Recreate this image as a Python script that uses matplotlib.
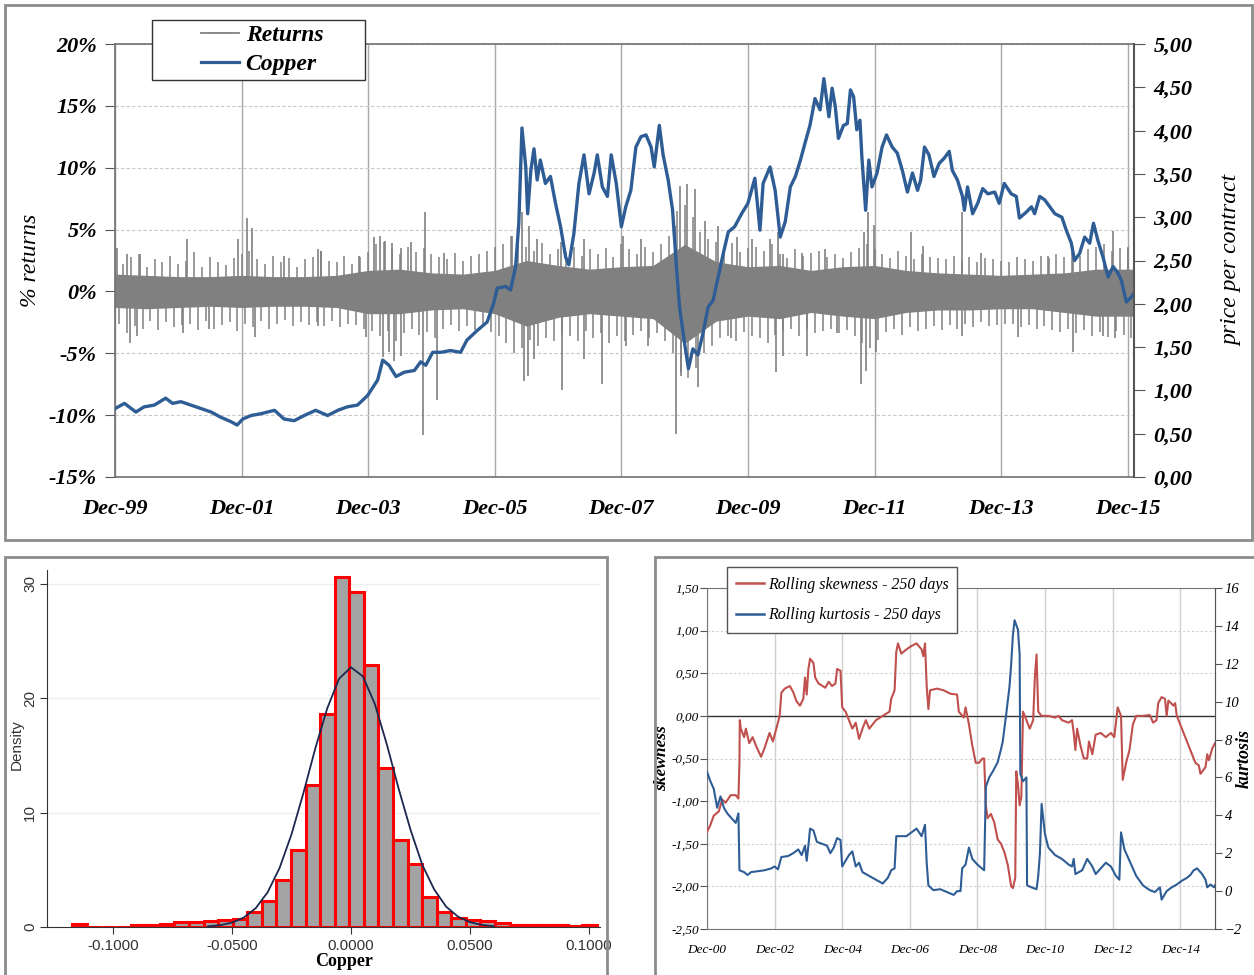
import matplotlib
matplotlib.use("Agg")
import matplotlib.pyplot as plt
from matplotlib.patches import Rectangle
from matplotlib.lines import Line2D
from matplotlib.ticker import FuncFormatter

SERIF = "Liberation Serif"
SANS = "Liberation Sans"

# ---------------- data ----------------
# top panel, x = years after Dec-99
top_labels = ["Dec-99", "Dec-01", "Dec-03", "Dec-05", "Dec-07", "Dec-09", "Dec-11", "Dec-13", "Dec-15"]

copper_pts = [
    (0, 0.79), (0.15, 0.85), (0.33, 0.75), (0.46, 0.81), (0.62, 0.83), (0.80, 0.91), (0.91, 0.85),
    (1.04, 0.87), (1.20, 0.83), (1.36, 0.79), (1.52, 0.75), (1.67, 0.69), (1.83, 0.64), (1.93, 0.60),
    (2.02, 0.67), (2.15, 0.71), (2.30, 0.73), (2.52, 0.77), (2.67, 0.67), (2.83, 0.65), (2.99, 0.71),
    (3.17, 0.77), (3.36, 0.71), (3.52, 0.77), (3.67, 0.81), (3.83, 0.83), (3.99, 0.94), (4.15, 1.12),
    (4.23, 1.35), (4.33, 1.29), (4.44, 1.16), (4.57, 1.21), (4.73, 1.23), (4.83, 1.33), (4.91, 1.29),
    (5.02, 1.44), (5.15, 1.44), (5.30, 1.46), (5.46, 1.44), (5.56, 1.58), (5.72, 1.69), (5.88, 1.79),
    (5.98, 2.00), (6.04, 2.18), (6.17, 2.20), (6.25, 2.16), (6.33, 2.43), (6.38, 2.93), (6.43, 4.03),
    (6.49, 3.58), (6.52, 3.04), (6.57, 3.54), (6.62, 3.79), (6.67, 3.43), (6.72, 3.66), (6.80, 3.39),
    (6.88, 3.47), (6.96, 3.16), (7.04, 2.89), (7.12, 2.54), (7.17, 2.45), (7.25, 2.81), (7.33, 3.39),
    (7.41, 3.72), (7.49, 3.27), (7.57, 3.51), (7.62, 3.72), (7.70, 3.35), (7.78, 3.24), (7.84, 3.72),
    (7.92, 3.39), (8.00, 2.89), (8.07, 3.12), (8.15, 3.31), (8.23, 3.81), (8.31, 3.93), (8.39, 3.95),
    (8.47, 3.81), (8.52, 3.58), (8.60, 4.06), (8.66, 3.72), (8.74, 3.43), (8.81, 3.08), (8.87, 2.43),
    (8.92, 1.96), (9.00, 1.54), (9.06, 1.25), (9.13, 1.48), (9.21, 1.41), (9.29, 1.66), (9.37, 1.96),
    (9.45, 2.04), (9.53, 2.31), (9.61, 2.58), (9.69, 2.83), (9.79, 2.89), (9.90, 3.04), (10.00, 3.16),
    (10.11, 3.45), (10.19, 2.85), (10.24, 3.39), (10.35, 3.58), (10.43, 3.31), (10.51, 2.77),
    (10.59, 2.95), (10.67, 3.35), (10.75, 3.47), (10.83, 3.66), (10.90, 3.85), (10.98, 4.06),
    (11.06, 4.37), (11.14, 4.24), (11.20, 4.60), (11.28, 4.16), (11.33, 4.49), (11.38, 4.28),
    (11.43, 3.91), (11.51, 4.06), (11.57, 4.08), (11.62, 4.47), (11.67, 4.39), (11.72, 4.01),
    (11.77, 4.12), (11.80, 3.70), (11.86, 3.08), (11.91, 3.66), (11.96, 3.35), (12.04, 3.51),
    (12.12, 3.81), (12.19, 3.95), (12.28, 3.81), (12.36, 3.74), (12.44, 3.54), (12.52, 3.29),
    (12.60, 3.51), (12.68, 3.31), (12.73, 3.43), (12.79, 3.81), (12.86, 3.72), (12.94, 3.47),
    (13.02, 3.62), (13.10, 3.68), (13.18, 3.76), (13.23, 3.54), (13.31, 3.43), (13.39, 3.24),
    (13.42, 3.08), (13.47, 3.35), (13.55, 3.04), (13.63, 3.16), (13.71, 3.33), (13.79, 3.27),
    (13.90, 3.29), (13.97, 3.16), (14.05, 3.39), (14.16, 3.27), (14.24, 3.24), (14.29, 2.99),
    (14.40, 3.06), (14.48, 3.12), (14.53, 3.04), (14.61, 3.24), (14.69, 3.20), (14.77, 3.12),
    (14.85, 3.04), (14.96, 3.00), (15.03, 2.85), (15.11, 2.70), (15.16, 2.50), (15.24, 2.58),
    (15.32, 2.77), (15.40, 2.70), (15.46, 2.93), (15.53, 2.73), (15.61, 2.54), (15.69, 2.31),
    (15.77, 2.43), (15.85, 2.35), (15.90, 2.27), (15.98, 2.02), (16.06, 2.08), (16.10, 2.12),
]

# dense core of the daily returns (%), half-year steps
ret_t = [0, 0.5, 1, 1.5, 2, 2.5, 3, 3.5, 4, 4.5, 5, 5.5, 6, 6.5, 7, 7.5, 8, 8.5, 9, 9.5,
         10, 10.5, 11, 11.5, 12, 12.5, 13, 13.5, 14, 14.5, 15, 15.5, 16, 16.1]
ret_hi = [1.4, 1.3, 1.2, 1.2, 1.3, 1.2, 1.2, 1.3, 1.7, 1.8, 1.5, 1.4, 1.7, 2.5, 2.1, 1.8, 2.0,
          2.1, 3.8, 2.4, 2.0, 2.1, 1.7, 2.0, 2.1, 1.7, 1.5, 1.4, 1.3, 1.4, 1.5, 1.8, 1.8, 1.8]
ret_lo = [-1.3, -1.4, -1.3, -1.2, -1.3, -1.2, -1.2, -1.3, -1.8, -1.8, -1.5, -1.4, -1.8, -2.8,
          -2.1, -1.8, -2.0, -2.2, -4.2, -2.4, -2.0, -2.2, -1.7, -2.0, -2.2, -1.7, -1.5, -1.5,
          -1.4, -1.4, -1.7, -2.0, -2.0, -2.0]

# largest up / down daily return in each 1.5-month window (%)
fringe_t = [i * 0.125 for i in range(129)]
fringe_up = [3.4, 2.2, 2.8, 3.0, 2.0, 2.6, 2.4, 2.9, 2.2,
             2.5, 3.2, 2.0, 2.8, 2.4, 2.1, 2.7, 3.0,
             3.3, 2.6, 2.2, 2.9, 2.4, 2.7, 2.0, 2.6,
             2.8, 3.3, 2.5, 2.4, 2.9, 2.2, 2.8, 3.2,
             3.8, 4.0, 3.4, 3.0, 3.6, 3.2, 3.5, 3.0,
             2.8, 2.6, 3.1, 2.5, 2.9, 3.0, 3.3, 3.6,
             3.8, 4.5, 4.2, 3.6, 3.3, 3.9, 3.0, 3.4,
             3.2, 3.6, 2.9, 3.4, 3.0, 3.5, 2.8, 3.8,
             3.4, 3.0, 3.6, 3.2, 3.8, 4.5, 6.5, 7.0,
             6.0, 4.8, 4.2, 4.0, 3.6, 3.9, 3.2, 3.5,
             3.6, 3.3, 3.8, 3.0, 2.7, 3.4, 2.9, 3.1,
             3.3, 2.8, 3.0, 2.7, 3.2, 3.5, 3.8, 3.4,
             3.0, 2.7, 3.3, 2.9, 2.6, 3.0, 2.8, 2.7,
             2.6, 2.9, 2.5, 2.8, 2.4, 2.7, 2.6, 2.5,
             2.4, 2.8, 2.6, 2.5, 2.9, 2.7, 3.0, 2.8,
             3.2, 2.9, 3.4, 3.6, 3.8, 3.3, 3.5, 3.6]
fringe_dn = [-2.6, -3.4, -2.8, -3.0, -2.4, -3.1, -2.5, -2.9, -2.7,
             -2.6, -3.1, -2.4, -3.0, -2.7, -2.5, -3.2, -2.6,
             -2.9, -2.4, -3.0, -2.6, -2.3, -2.8, -2.5, -2.7,
             -2.5, -2.8, -2.4, -2.9, -2.6, -2.7, -3.0, -3.2,
             -3.6, -3.2, -4.0, -3.4, -3.0, -3.5, -3.3, -3.8,
             -3.0, -2.7, -3.2, -2.8, -3.1, -2.9, -3.3, -3.6,
             -4.2, -5.0, -4.6, -3.9, -4.4, -3.8, -4.0, -3.5,
             -3.6, -4.0, -3.2, -3.8, -3.4, -4.2, -3.6, -4.0,
             -3.5, -3.2, -3.8, -3.4, -4.0, -5.0, -6.5, -7.0,
             -6.2, -5.0, -4.4, -3.8, -3.6, -4.0, -3.3, -3.6,
             -3.8, -4.2, -3.5, -3.2, -3.0, -3.6, -3.0, -3.4,
             -3.2, -3.0, -3.4, -3.1, -3.6, -4.2, -4.6, -3.9,
             -3.3, -3.0, -3.5, -2.9, -3.2, -3.0, -2.8, -3.1,
             -2.7, -3.0, -2.6, -2.9, -2.5, -2.8, -2.7, -2.6,
             -2.6, -2.9, -2.7, -3.0, -2.8, -3.1, -3.3, -3.0,
             -3.4, -3.1, -3.6, -3.3, -3.7, -3.2, -3.5, -3.8]

# single large daily returns (%)
spikes = [
    (0.03, 3.5), (0.19, 3.0), (0.40, 3.0), (1.14, 4.2), (1.94, 4.2), (2.08, 5.9), (2.17, 5.1),
    (2.67, 2.9), (3.20, 3.4), (3.25, 3.3), (3.86, 2.9), (4.10, 4.4), (4.19, 4.5), (4.26, 4.1),
    (4.38, 3.9), (4.52, 3.5), (4.68, 4.0), (4.90, 6.4), (5.20, 3.1),
    (0.24, -4.2), (0.35, -3.6), (1.07, -3.4), (1.49, -3.0), (2.21, -3.7), (3.20, -2.8),
    (3.96, -3.7), (4.24, -5.3), (4.33, -4.9), (4.41, -5.6), (4.52, -5.2), (4.86, -11.6), (5.09, -8.8),
    (6.28, 4.5), (6.43, 6.4), (6.54, 5.3), (6.67, 4.2), (7.04, 4.0), (7.41, 4.2), (8.02, 4.5),
    (8.31, 4.2), (8.84, 5.3), (8.92, 8.5), (9.03, 8.7), (9.16, 8.3), (9.32, 5.7), (9.53, 5.3),
    (9.82, 4.4), (10.06, 4.2), (10.35, 4.2), (10.48, 4.8),
    (6.46, -7.2), (6.53, -6.8), (6.62, -5.5), (7.07, -8.0), (7.41, -5.5), (7.70, -7.5),
    (8.07, -4.4), (8.42, -4.4), (8.86, -11.5), (8.95, -6.8), (9.21, -7.7), (9.74, -3.8), (10.45, -6.5),
    (10.56, 3.0), (10.85, 3.1), (11.22, 3.4), (11.83, 4.8), (11.89, 6.4), (11.99, 5.4),
    (12.57, 4.8), (12.76, 3.7), (13.39, 6.4), (13.68, 3.1), (14.74, 2.9), (15.14, 2.7),
    (15.77, 4.9), (16.01, 3.4),
    (10.56, -5.2), (10.93, -5.2), (11.41, -3.4), (11.79, -7.5), (11.87, -6.4), (12.03, -4.9),
    (13.39, -3.6), (14.26, -3.7), (15.14, -4.9), (15.61, -3.6), (15.80, -3.8),
]

# histogram of copper returns
hist_edges = [-0.1170, -0.1109, -0.1048, -0.0986, -0.0925, -0.0864, -0.0803, -0.0742, -0.0680,
              -0.0619, -0.0558, -0.0497, -0.0436, -0.0374, -0.0313, -0.0252, -0.0191, -0.0130,
              -0.0068, -0.0007, 0.0054, 0.0115, 0.0176, 0.0238, 0.0299, 0.0360, 0.0421, 0.0482,
              0.0544, 0.0605, 0.0666, 0.0727, 0.0788, 0.0850, 0.0911, 0.0972, 0.1033]
hist_density = [0.25, 0.03, 0.03, 0.03, 0.15, 0.2, 0.3, 0.4, 0.45, 0.55, 0.6, 0.7, 1.3, 2.3,
                4.1, 6.7, 12.4, 18.6, 30.6, 29.3, 22.9, 13.9, 7.6, 5.5, 2.6, 1.3, 0.8, 0.6,
                0.5, 0.35, 0.2, 0.15, 0.15, 0.15, 0.05, 0.2]
normal_x = [-0.06, -0.055, -0.05, -0.045, -0.04, -0.035, -0.03, -0.025, -0.02, -0.015, -0.01,
            -0.005, 0.0, 0.005, 0.01, 0.015, 0.02, 0.025, 0.03, 0.035, 0.04, 0.045, 0.05, 0.055, 0.06]
normal_y = [0.06, 0.16, 0.38, 0.83, 1.65, 3.04, 5.16, 8.09, 11.7, 15.6, 19.1, 21.7, 22.7, 21.9,
            19.5, 16.0, 12.1, 8.5, 5.4, 3.26, 1.77, 0.9, 0.42, 0.18, 0.07]
hist_ticks = [-0.1, -0.05, 0.0, 0.05, 0.1]

# rolling moments, x = years after Dec-00
roll_labels = ["Dec-00", "Dec-02", "Dec-04", "Dec-06", "Dec-08", "Dec-10", "Dec-12", "Dec-14"]
skew_pts = [
    (0, -1.36), (0.1, -1.28), (0.2, -1.17), (0.35, -1.12), (0.45, -0.98), (0.55, -1.02), (0.7, -0.93),
    (0.85, -0.93), (0.93, -0.97), (0.96, -0.55), (0.97, -0.05), (1.0, -0.15), (1.1, -0.25),
    (1.15, -0.15), (1.25, -0.32), (1.35, -0.25), (1.45, -0.35), (1.6, -0.48), (1.7, -0.38),
    (1.85, -0.20), (1.95, -0.30), (2.05, -0.15), (2.15, 0.0), (2.2, 0.27), (2.3, 0.32), (2.45, 0.35),
    (2.55, 0.28), (2.65, 0.17), (2.75, 0.12), (2.85, 0.2), (2.9, 0.45), (2.95, 0.25), (3.0, 0.55),
    (3.05, 0.67), (3.15, 0.62), (3.2, 0.45), (3.3, 0.38), (3.5, 0.33), (3.6, 0.4), (3.7, 0.35),
    (3.8, 0.38), (3.85, 0.55), (3.95, 0.53), (4.0, 0.1), (4.1, 0.05), (4.2, -0.05), (4.3, -0.15),
    (4.4, -0.08), (4.5, -0.27), (4.6, -0.15), (4.7, -0.05), (4.8, -0.15), (5.0, -0.05), (5.2, 0.0),
    (5.4, 0.05), (5.45, 0.2), (5.55, 0.3), (5.6, 0.75), (5.65, 0.85), (5.75, 0.73), (5.9, 0.78),
    (6.05, 0.82), (6.2, 0.85), (6.35, 0.78), (6.4, 0.70), (6.45, 0.85), (6.5, 0.35), (6.55, 0.08),
    (6.6, 0.3), (6.8, 0.32), (7.0, 0.30), (7.2, 0.26), (7.4, 0.25), (7.45, 0.05), (7.6, -0.02),
    (7.65, 0.1), (7.75, -0.1), (7.85, -0.35), (7.95, -0.55), (8.05, -0.55), (8.15, -0.5),
    (8.2, -0.5), (8.25, -1.05), (8.3, -1.2), (8.4, -1.15), (8.5, -1.25), (8.6, -1.45), (8.7, -1.5),
    (8.8, -1.6), (8.9, -1.75), (9.0, -2.0), (9.05, -2.02), (9.12, -1.9), (9.15, -0.65), (9.2, -0.8),
    (9.25, -1.05), (9.3, -0.95), (9.35, 0.05), (9.45, -0.05), (9.55, -0.15), (9.65, -0.05),
    (9.7, 0.45), (9.75, 0.72), (9.8, 0.05), (9.9, 0.0), (10.1, 0.0), (10.3, -0.02), (10.4, 0.0),
    (10.5, -0.05), (10.7, -0.08), (10.8, -0.05), (10.85, -0.2), (10.9, -0.4), (10.95, -0.15),
    (11.05, -0.35), (11.15, -0.5), (11.25, -0.5), (11.3, -0.3), (11.4, -0.45), (11.5, -0.22),
    (11.65, -0.2), (11.8, -0.25), (11.95, -0.2), (12.05, -0.25), (12.15, 0.1), (12.25, 0.0),
    (12.3, -0.75), (12.4, -0.55), (12.5, -0.4), (12.6, -0.1), (12.7, 0.0), (12.9, 0.0), (13.1, 0.01),
    (13.2, -0.08), (13.3, -0.05), (13.35, 0.15), (13.45, 0.22), (13.55, 0.2), (13.6, 0.0),
    (13.65, 0.18), (13.8, 0.12), (13.85, 0.15), (13.9, 0.0), (14.0, -0.1), (14.1, -0.2),
    (14.2, -0.3), (14.35, -0.45), (14.45, -0.55), (14.55, -0.58), (14.6, -0.68), (14.75, -0.6),
    (14.8, -0.45), (14.85, -0.52), (14.95, -0.38), (15.03, -0.32),
]
kurt_pts = [
    (0, 6.3), (0.1, 5.8), (0.2, 5.4), (0.3, 4.4), (0.4, 5.0), (0.5, 4.4), (0.6, 4.1), (0.75, 3.8),
    (0.85, 3.6), (0.93, 4.1), (0.96, 1.1), (1.1, 1.0), (1.2, 0.85), (1.3, 1.0), (1.5, 1.05),
    (1.7, 1.1), (1.9, 1.2), (2.0, 1.3), (2.1, 1.15), (2.2, 1.8), (2.4, 1.85), (2.55, 2.0),
    (2.7, 2.2), (2.8, 1.9), (2.9, 2.4), (2.95, 1.6), (3.0, 2.4), (3.05, 3.3), (3.15, 3.2),
    (3.25, 2.6), (3.4, 2.5), (3.55, 2.4), (3.65, 2.0), (3.75, 2.3), (3.85, 2.8), (3.95, 2.7),
    (4.0, 1.3), (4.1, 1.6), (4.2, 1.9), (4.3, 2.1), (4.4, 1.3), (4.5, 1.5), (4.6, 1.0), (4.8, 0.8),
    (5.0, 0.6), (5.2, 0.4), (5.35, 0.7), (5.45, 1.1), (5.55, 1.2), (5.6, 2.9), (5.7, 2.9),
    (5.9, 2.9), (6.05, 3.1), (6.2, 3.3), (6.35, 2.9), (6.45, 3.5), (6.5, 1.5), (6.55, 0.3),
    (6.7, 0.05), (6.9, 0.1), (7.1, -0.05), (7.3, -0.2), (7.4, 0.0), (7.5, 0.0), (7.55, 1.2),
    (7.65, 1.4), (7.75, 2.3), (7.85, 1.7), (8.0, 1.4), (8.2, 1.1), (8.25, 5.5), (8.35, 6.0),
    (8.45, 6.3), (8.6, 6.8), (8.7, 7.5), (8.75, 7.9), (8.85, 9.3), (8.95, 10.8), (9.0, 12.0),
    (9.05, 13.5), (9.1, 14.3), (9.2, 13.8), (9.25, 12.5), (9.27, 6.2), (9.35, 5.8), (9.45, 6.0),
    (9.47, 0.3), (9.6, 0.2), (9.75, 0.1), (9.8, 0.8), (9.85, 2.0), (9.9, 4.6), (10.0, 3.0),
    (10.1, 2.3), (10.3, 1.9), (10.5, 1.7), (10.7, 1.4), (10.8, 1.3), (10.85, 1.7), (10.9, 0.9),
    (11.1, 1.1), (11.25, 1.7), (11.4, 1.3), (11.5, 0.9), (11.65, 1.2), (11.8, 1.5), (11.95, 1.3),
    (12.1, 0.8), (12.2, 0.6), (12.25, 3.1), (12.35, 2.2), (12.5, 1.6), (12.7, 0.8), (12.9, 0.3),
    (13.1, 0.05), (13.25, -0.05), (13.4, 0.2), (13.45, -0.45), (13.6, 0.0), (13.75, 0.2),
    (13.9, 0.35), (14.05, 0.55), (14.2, 0.7), (14.3, 0.85), (14.4, 1.1), (14.5, 1.2),
    (14.65, 0.9), (14.75, 0.6), (14.8, 0.2), (14.9, 0.35), (15.0, 0.2), (15.03, 0.3),
]

# ---------------- figure ----------------
W, H = 1254, 975
fig = plt.figure(figsize=(W / 100, H / 100), dpi=100)


def box(x0, y0, x1, y1):
    return [x0 / W, 1 - y1 / H, (x1 - x0) / W, (y1 - y0) / H]


def comma(v, _):
    return f"{v:.2f}".replace(".", ",")


def frame(x0, y0, x1, y1, ec, lw, fill=False, z=1):
    b = box(x0, y0, x1, y1)
    fig.patches.append(Rectangle((b[0], b[1]), b[2], b[3], transform=fig.transFigure,
                                 fill=fill, fc="white", ec=ec, lw=lw, zorder=z))


for x0, y0, x1, y1 in [(5, 5, 1252, 540), (5, 557, 607, 990), (655, 557, 1264, 990)]:
    frame(x0, y0, x1, y1, "#8c8c8c", 2)

GRAY = "#808080"
BLUE = "#2e5d95"
RED = "#c0504d"

# ---- top: returns and copper price ----
ax = fig.add_axes(box(115, 44, 1134, 477))
ax.fill_between(ret_t, ret_lo, ret_hi, color=GRAY, lw=0)
ax.vlines(fringe_t, 0, fringe_up, color=GRAY, lw=1.1)
ax.vlines([t + 0.06 for t in fringe_t], 0, fringe_dn, color=GRAY, lw=1.1)
ax.vlines([s[0] for s in spikes], 0, [s[1] for s in spikes], color=GRAY, lw=1.2)
ax.set_xlim(0, 16.1)
ax.set_ylim(-15, 20)
ax.set_xticks(range(0, 17, 2))
ax.set_xticklabels(top_labels)
ax.set_yticks(range(-15, 21, 5))
ax.set_yticklabels([f"{v}%" for v in range(-15, 21, 5)])
ax.grid(axis="x", color="#a8a8a8", lw=1)
ax.grid(axis="y", color="#c8c8c8", lw=0.8, ls=(0, (3, 2)))
ax.set_axisbelow(True)
ax.tick_params(axis="x", length=0, pad=16)
ax.tick_params(axis="y", length=7, direction="out", color="#555555", pad=6)
for s in ax.spines.values():
    s.set_color("#707070")
    s.set_linewidth(1.2)
for lbl in ax.get_xticklabels() + ax.get_yticklabels():
    lbl.set_fontfamily(SERIF)
    lbl.set_fontsize(16)
    lbl.set_fontweight("bold")
    lbl.set_fontstyle("italic")
ax.set_ylabel("% returns", family=SERIF, style="italic", fontsize=17)
ax.yaxis.set_label_coords(-0.073, 0.5)

ax2 = ax.twinx()
ax2.plot([p[0] for p in copper_pts], [p[1] for p in copper_pts], color=BLUE, lw=2.4)
ax2.set_ylim(0, 5)
ax2.set_yticks([i * 0.5 for i in range(11)])
ax2.yaxis.set_major_formatter(FuncFormatter(comma))
ax2.tick_params(axis="y", length=8, direction="out", color="#555555", pad=6)
for s in ax2.spines.values():
    s.set_visible(False)
ax2.spines["right"].set_visible(True)
ax2.spines["right"].set_color("#555555")
ax2.spines["right"].set_linewidth(1.5)
for lbl in ax2.get_yticklabels():
    lbl.set_fontfamily(SERIF)
    lbl.set_fontsize(16)
    lbl.set_fontweight("bold")
    lbl.set_fontstyle("italic")
ax2.set_ylabel("price per contract", family=SERIF, style="italic", fontsize=17)
ax2.yaxis.set_label_coords(1.086, 0.5)

frame(152, 20, 365, 80, "#333333", 1, fill=True, z=4)
fig.legend([Line2D([], [], color=GRAY, lw=1.3), Line2D([], [], color=BLUE, lw=2.3)],
           ["Returns", "Copper"], loc="center",
           bbox_to_anchor=(262 / W, 1 - 50 / H), bbox_transform=fig.transFigure,
           borderaxespad=0, frameon=False,
           handlelength=1.6, handletextpad=0.3, labelspacing=0.3, borderpad=0.2,
           prop={"family": SERIF, "size": 17, "weight": "bold", "style": "italic"})

# ---- bottom left: histogram ----
bx = fig.add_axes(box(47, 570, 600, 927))
bx.bar(hist_edges[:-1], hist_density,
       width=[hist_edges[i + 1] - hist_edges[i] for i in range(len(hist_density))],
       align="edge", color="#a3a3a3", edgecolor="#ff0000", lw=2.2, zorder=2)
bx.plot(normal_x, normal_y, color="#1c2750", lw=1.3, zorder=3)
bx.set_xlim(-0.1277, 0.1046)
bx.set_ylim(0, 31.2)
bx.set_xticks(hist_ticks)
bx.set_xticklabels([f"{v:.4f}" for v in hist_ticks], family=SANS, fontsize=11, color="#333333")
bx.set_yticks([0, 10, 20, 30])
bx.set_yticklabels(["0", "10", "20", "30"], family=SANS, fontsize=11, color="#333333",
                   rotation=90, va="center")
bx.grid(axis="y", color="#eeeeee", lw=1)
bx.set_axisbelow(True)
bx.tick_params(length=5, color="#333333")
bx.tick_params(axis="y", pad=2)
bx.spines["top"].set_visible(False)
bx.spines["right"].set_visible(False)
bx.spines["left"].set_color("#333333")
bx.spines["bottom"].set_color("#333333")
bx.set_ylabel("Density", family=SANS, fontsize=11, color="#333333")
bx.yaxis.set_label_coords(-0.042, 0.51)
bx.set_xlabel("Copper", family=SERIF, fontsize=13, weight="bold")
bx.xaxis.set_label_coords(0.537, -0.072)

# ---- bottom right: rolling skewness and kurtosis ----
rx = fig.add_axes(box(707, 588, 1215, 929))
rx.plot([p[0] for p in skew_pts], [p[1] for p in skew_pts], color=RED, lw=1.5, zorder=3)
rx.axhline(0, color="#333333", lw=1, zorder=2)
rx.set_xlim(0, 15.03)
rx.set_ylim(-2.5, 1.5)
rx.set_xticks(range(0, 15, 2))
rx.set_xticklabels(roll_labels)
rx.set_yticks([-2.5 + 0.5 * i for i in range(9)])
rx.yaxis.set_major_formatter(FuncFormatter(comma))
rx.grid(axis="x", color="#cfcfcf", lw=1)
rx.grid(axis="y", color="#cfcfcf", lw=0.8, ls=(0, (2, 2)))
rx.set_axisbelow(True)
rx.tick_params(axis="x", length=0, pad=11)
rx.tick_params(axis="y", length=5, color="#555555", pad=1)
for s in rx.spines.values():
    s.set_color("#777777")
for lbl in rx.get_xticklabels() + rx.get_yticklabels():
    lbl.set_fontfamily(SERIF)
    lbl.set_fontsize(9.5)
    lbl.set_fontstyle("italic")
rx.set_ylabel("skewness", family=SERIF, style="italic", weight="bold", fontsize=12.5)
rx.yaxis.set_label_coords(-0.072, 0.5)

rx2 = rx.twinx()
rx2.plot([p[0] for p in kurt_pts], [p[1] for p in kurt_pts], color=BLUE, lw=1.5)
rx2.set_ylim(-2, 16)
rx2.set_yticks(range(-2, 17, 2))
rx2.tick_params(axis="y", length=5, color="#555555", pad=2)
for s in rx2.spines.values():
    s.set_visible(False)
rx2.spines["right"].set_visible(True)
rx2.spines["right"].set_color("#555555")
for lbl in rx2.get_yticklabels():
    lbl.set_fontfamily(SERIF)
    lbl.set_fontsize(10.5)
    lbl.set_fontstyle("italic")
rx2.set_ylabel("kurtosis", family=SERIF, style="italic", weight="bold", fontsize=13)
rx2.yaxis.set_label_coords(1.041, 0.5)

frame(727, 567, 957, 633, "#555555", 1, fill=True, z=4)
fig.legend([Line2D([], [], color=RED, lw=1.8), Line2D([], [], color=BLUE, lw=1.8)],
           ["Rolling skewness - 250 days", "Rolling kurtosis - 250 days"],
           loc="center", bbox_to_anchor=(842 / W, 1 - 600 / H),
           bbox_transform=fig.transFigure, borderaxespad=0, frameon=False,
           handlelength=1.8, handletextpad=0.2, labelspacing=0.9, borderpad=0.2,
           prop={"family": SERIF, "size": 11.5, "style": "italic"})

fig.savefig("out.png", dpi=100)
